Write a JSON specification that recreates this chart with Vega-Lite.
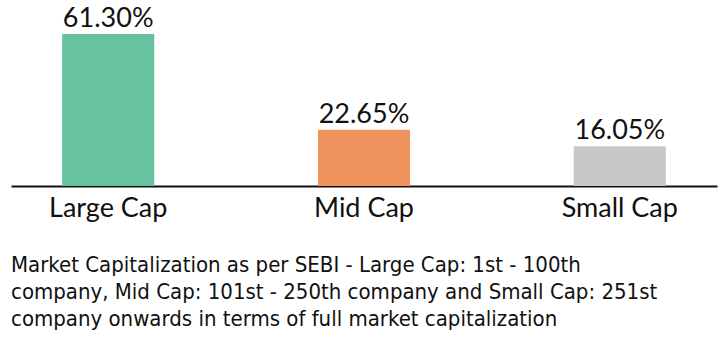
{
  "$schema": "https://vega.github.io/schema/vega-lite/v6.json",
  "width": 706,
  "height": 186,
  "autosize": {"type": "none"},
  "padding": {"left": 11, "top": 0, "right": 6, "bottom": 178},
  "background": "white",
  "data": {"values": [
    {"category": "Large Cap", "share": 61.30, "label": "61.30%"},
    {"category": "Mid Cap", "share": 22.65, "label": "22.65%"},
    {"category": "Small Cap", "share": 16.05, "label": "16.05%"}
  ]},
  "title": {
    "text": ["Market Capitalization as per SEBI - Large Cap: 1st - 100th", "company, Mid Cap: 101st - 250th company and Small Cap: 251st", "company onwards in terms of full market capitalization"],
    "orient": "bottom",
    "anchor": "start",
    "frame": "group",
    "font": "DejaVu Sans Condensed, Liberation Sans Narrow, Roboto, sans-serif",
    "fontSize": 22,
    "fontWeight": "normal",
    "color": "#111111",
    "lineHeight": 27,
    "offset": 34,
    "baseline": "top"
  },
  "config": {"view": {"stroke": null}},
  "encoding": {
    "x": {
      "field": "category", "type": "nominal", "sort": null,
      "scale": {"paddingInner": 0.64, "paddingOuter": 0.2},
      "axis": {"title": null, "labelAngle": 0, "ticks": false, "domainColor": "#111111", "domainWidth": 2, "labelFont": "Lato", "labelFontSize": 27, "labelColor": "#111111", "labelPadding": 9, "labelBaseline": "top"}
    },
    "y": {"field": "share", "type": "quantitative", "scale": {"domain": [0, 75], "nice": false}, "axis": null}
  },
  "layer": [
    {"mark": {"type": "bar"},
     "encoding": {"color": {"field": "category", "type": "nominal", "sort": null, "scale": {"range": ["#69c29f", "#f0935e", "#c8c8c8"]}, "legend": null}}},
    {"mark": {"type": "text", "baseline": "alphabetic", "dy": -7, "font": "Lato", "fontSize": 27, "color": "#111111"},
     "encoding": {"text": {"field": "label"}}}
  ]
}
